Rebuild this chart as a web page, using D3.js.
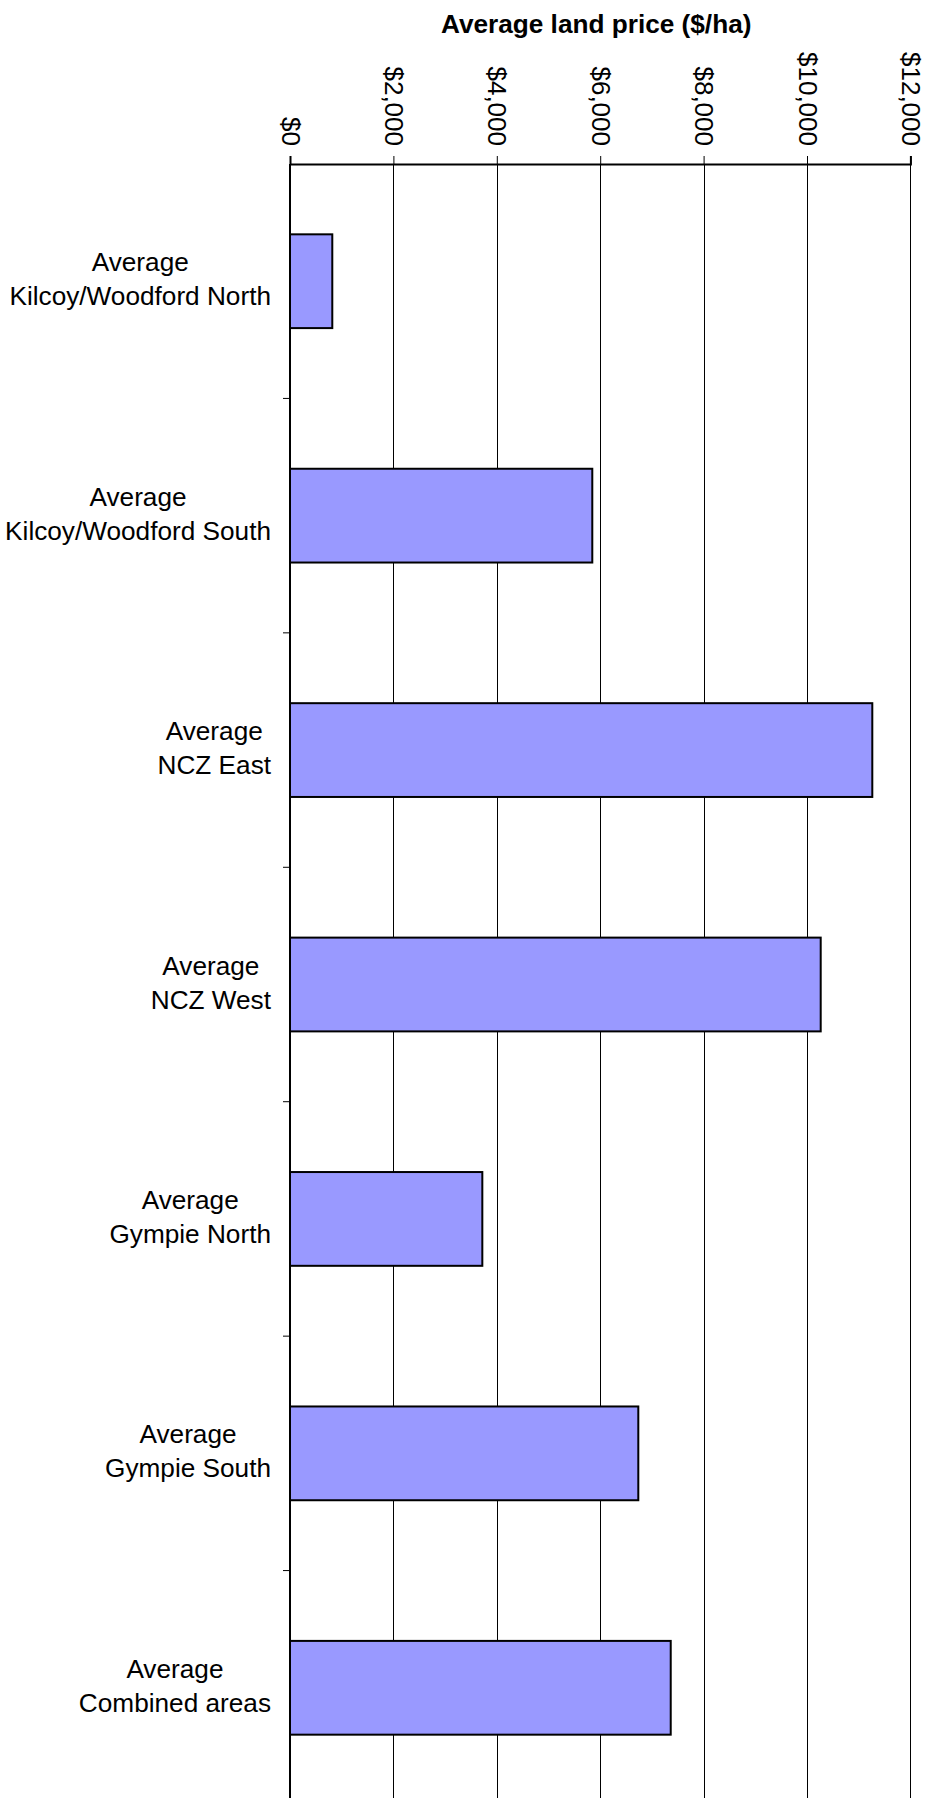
<!DOCTYPE html>
<html>
<head>
<meta charset="utf-8">
<script src="https://cdn.jsdelivr.net/npm/d3@7"></script>
<style>
  html, body { margin: 0; padding: 0; background: #fff; }
  svg { display: block; }
  text { font-family: "Liberation Sans", Arial, sans-serif; fill: #000; }
</style>
</head>
<body>
<svg id="chart" width="932" height="1798"></svg>
<script>
const categories = [
  ["Average", "Kilcoy/Woodford North"],
  ["Average", "Kilcoy/Woodford South"],
  ["Average", "NCZ East"],
  ["Average", "NCZ West"],
  ["Average", "Gympie North"],
  ["Average", "Gympie South"],
  ["Average", "Combined areas"]
];
const values = [818, 5847, 11263, 10265, 3720, 6737, 7364];
const tickValues = [0, 2000, 4000, 6000, 8000, 10000, 12000];
const tickLabels = ["$0", "$2,000", "$4,000", "$6,000", "$8,000", "$10,000", "$12,000"];
const axisTitle = "Average land price ($/ha)";

(function () {
const svg = d3.select("#chart");
const mLeft = 290, mRight = 910.4, mTop = 164, mBottom = 1805;

const x = d3.scaleLinear().domain([0, 12000]).range([mLeft, mRight]);
const y = d3.scaleBand().domain(d3.range(categories.length)).range([mTop, mBottom])
  .paddingInner(0.6).paddingOuter(0.3);

// gridlines
svg.append("g").selectAll("line").data(tickValues.slice(1)).join("line")
  .attr("x1", d => Math.round(x(d)) + 0.5).attr("x2", d => Math.round(x(d)) + 0.5)
  .attr("y1", mTop).attr("y2", 1798)
  .attr("stroke", "#000").attr("stroke-width", 1);

// bars
svg.append("g").selectAll("rect").data(values).join("rect")
  .attr("x", x(0))
  .attr("y", (d, i) => y(i))
  .attr("width", d => x(d) - x(0))
  .attr("height", y.bandwidth())
  .attr("fill", "#9999FF")
  .attr("stroke", "#000")
  .attr("stroke-width", 2);

// top axis
const xAxis = d3.axisTop(x).tickValues(tickValues).tickFormat((d, i) => tickLabels[i]).tickSizeOuter(0).tickSize(8);
const gx = svg.append("g").attr("transform", `translate(0,${mTop})`).call(xAxis);
gx.select(".domain").attr("stroke", "#000").attr("stroke-width", 2);
gx.selectAll(".tick line").attr("stroke", "#000");
gx.selectAll(".tick text")
  .attr("font-size", 26)
  .attr("font-family", "Liberation Sans, Arial, sans-serif")
  .attr("transform", "rotate(90)")
  .attr("text-anchor", "end")
  .attr("dominant-baseline", "central")
  .attr("x", -18)
  .attr("y", 0)
  .attr("dy", null);

// left axis (category)
const boundaries = d3.range(1, categories.length).map(i => mTop + i * y.step());
svg.append("line").attr("x1", mLeft).attr("x2", mLeft).attr("y1", mTop).attr("y2", 1798)
  .attr("stroke", "#000").attr("stroke-width", 2);
svg.append("g").selectAll("line").data(boundaries).join("line")
  .attr("x1", mLeft - 7).attr("x2", mLeft)
  .attr("y1", d => d).attr("y2", d => d)
  .attr("stroke", "#000").attr("stroke-width", 1);

// category labels
const labelRight = 271;
categories.forEach((lines, i) => {
  const cy = y(i) + y.bandwidth() / 2;
  const g = svg.append("g");
  const texts = g.selectAll("text").data(lines).join("text")
    .attr("font-size", 26.2)
    .attr("text-anchor", "middle")
    .attr("y", (d, j) => cy - 10 + j * 34)
    .text(d => d);
  let maxW = 0;
  texts.each(function () { maxW = Math.max(maxW, this.getComputedTextLength()); });
  texts.attr("x", labelRight - maxW / 2);
});

// axis title
svg.append("text")
  .attr("x", (mLeft + mRight) / 2 - 4)
  .attr("y", 33)
  .attr("text-anchor", "middle")
  .attr("font-size", 26.2)
  .attr("font-weight", "bold")
  .text(axisTitle);
})();
</script>
</body>
</html>
